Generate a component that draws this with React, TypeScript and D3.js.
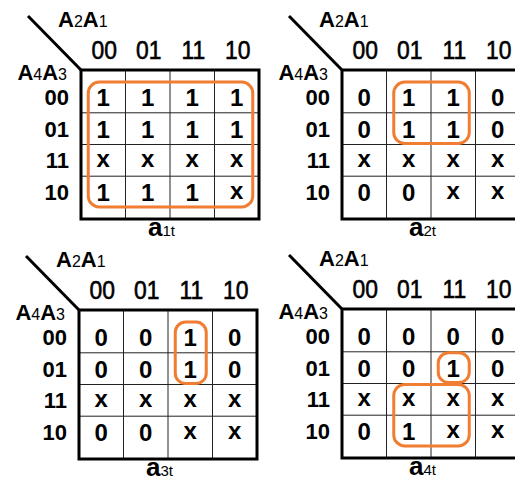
import React from 'react';
import * as d3 from 'd3';

// Karnaugh maps a1t..a4t, rows = A4A3, columns = A2A1 (gray code order)
const rowCodes = ['00', '01', '11', '10'];
const colCodes = ['00', '01', '11', '10'];

const a1t = [
  ['1', '1', '1', '1'],
  ['1', '1', '1', '1'],
  ['x', 'x', 'x', 'x'],
  ['1', '1', '1', 'x'],
];
const a2t = [
  ['0', '1', '1', '0'],
  ['0', '1', '1', '0'],
  ['x', 'x', 'x', 'x'],
  ['0', '0', 'x', 'x'],
];
const a3t = [
  ['0', '0', '1', '0'],
  ['0', '0', '1', '0'],
  ['x', 'x', 'x', 'x'],
  ['0', '0', 'x', 'x'],
];
const a4t = [
  ['0', '0', '0', '0'],
  ['0', '0', '1', '0'],
  ['x', 'x', 'x', 'x'],
  ['0', '1', 'x', 'x'],
];

// groupings: [firstRow, lastRow, firstCol, lastCol]
const loops1 = [[0, 3, 0, 3]];
const loops2 = [[0, 1, 1, 2]];
const loops3 = [[0, 1, 2, 2]];
const loops4 = [[1, 1, 2, 2], [2, 3, 1, 2]];

const titles = ['1t', '2t', '3t', '4t'];

const W = 178;
const H = 149;
const orange = '#f07d32';
const font = '"Liberation Sans", Arial, sans-serif';

const KMap = ({left, top, values, loops, title}) => {
  const x = d3.scaleBand().domain(colCodes).range([0, W]);
  const y = d3.scaleBand().domain(rowCodes).range([0, H]).paddingInner(0).paddingOuter(0.35);
  const cx = (c) => x(colCodes[c]) + x.bandwidth() / 2;

  return (
    <g transform={`translate(${left},${top})`} fontFamily={font}>
      {/* diagonal */}
      <line x1={-53} y1={-54} x2={0} y2={0} stroke="#000" strokeWidth={3}/>
      <text x={-23} y={-43} fontWeight="bold" fontSize={22}>
        A<tspan fontSize={16} fontWeight="normal">2</tspan>A<tspan fontSize={16} fontWeight="normal">1</tspan>
      </text>
      <text x={-14} y={10} fontWeight="bold" fontSize={22} textAnchor="end">
        A<tspan fontSize={16} fontWeight="normal">4</tspan>A<tspan fontSize={16} fontWeight="normal">3</tspan>
      </text>

      {/* column headers */}
      {colCodes.map(c => (
        <text key={c} transform={`translate(${x(c) + x.bandwidth() / 2 + 1},-11) scale(0.88,1)`}
              textAnchor="middle" fontSize={26} stroke="#000" strokeWidth={0.6}>{c}</text>
      ))}
      {/* row headers */}
      {rowCodes.map(r => (
        <text key={r} x={-12} y={y(r) + y.bandwidth() / 2 + 8} textAnchor="end"
              fontWeight="bold" fontSize={22}>{r}</text>
      ))}

      {/* inner grid */}
      {colCodes.slice(1).map(c => (
        <line key={'v' + c} x1={x(c)} x2={x(c)} y1={0} y2={H} stroke="#222" strokeWidth={1}/>
      ))}
      {rowCodes.slice(1).map(r => (
        <line key={'h' + r} x1={0} x2={W} y1={y(r)} y2={y(r)} stroke="#222" strokeWidth={1}/>
      ))}

      {/* cell values */}
      {values.map((row, i) => row.map((v, j) => (
        <text key={i + '-' + j} x={cx(j)} y={y(rowCodes[i]) + y.bandwidth() / 2 + (v === 'x' ? 7 : 9)}
              textAnchor="middle" fontWeight="bold" fontSize={24}>{v}</text>
      )))}

      {/* groupings */}
      {loops.map(([r0, r1, c0, c1], k) => {
        const x0 = cx(c0) - 15;
        const x1 = cx(c1) + 16;
        const y0 = y(rowCodes[r0]) + 1;
        const y1 = y(rowCodes[r1]) + y.bandwidth() - 1;
        const r = Math.min(11, (x1 - x0) / 3);
        return <rect key={k} x={x0} y={y0} width={x1 - x0} height={y1 - y0} rx={r} ry={r}
                     fill="none" stroke={orange} strokeWidth={3}/>;
      })}

      {/* outer box */}
      <rect x={0} y={0} width={W} height={H} fill="none" stroke="#000" strokeWidth={3}/>

      {/* title */}
      <text x={67} y={H + 17} fontWeight="bold" fontSize={26}>
        a<tspan fontSize={15} fontWeight="normal">{title}</tspan>
      </text>
    </g>
  );
};

export default function App() {
  const maps = [
    {left: 81, top: 70, values: a1t, loops: loops1},
    {left: 342, top: 70, values: a2t, loops: loops2},
    {left: 79, top: 310, values: a3t, loops: loops3},
    {left: 342, top: 309, values: a4t, loops: loops4},
  ];
  return (
    <svg width={515} height={482} style={{position: 'absolute', left: 0, top: 0, background: '#fff'}}>
      <rect width={515} height={482} fill="#fff"/>
      {maps.map((m, i) => (
        <KMap key={i} {...m} title={titles[i]}/>
      ))}
    </svg>
  );
}
